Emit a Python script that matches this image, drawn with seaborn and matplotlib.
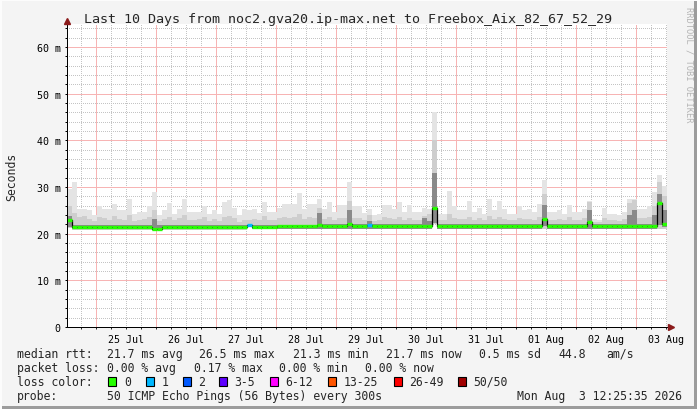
import numpy as np
import pandas as pd
import matplotlib
matplotlib.use("Agg")
import matplotlib.pyplot as plt
import matplotlib.dates as mdates
from matplotlib.patches import Rectangle
import seaborn as sns

# 10 days of smokeping data, 2 h consolidation bins (values in ms)
start = pd.Timestamp("2026-07-24 12:25:35")
end = pd.Timestamp("2026-08-03 12:25:35")
n_bins = 120

rtt_max = [
    29.6, 31.1, 25.3, 25.3, 25.0, 23.9, 26.0, 25.3, 25.3, 26.3,
    25.0, 25.0, 27.4, 24.2, 24.6, 24.6, 26.0, 28.9, 23.9, 25.0,
    26.5, 24.2, 25.3, 27.5, 24.6, 24.6, 24.6, 26.0, 24.2, 25.0,
    24.2, 26.7, 27.2, 25.6, 23.9, 25.3, 25.0, 25.3, 24.5, 26.7,
    24.6, 24.6, 25.6, 26.3, 26.3, 26.3, 28.7, 25.3, 26.3, 26.3,
    27.4, 25.3, 26.7, 24.6, 26.1, 26.1, 31.0, 26.0, 26.0, 24.5,
    25.3, 23.9, 24.2, 26.1, 26.1, 25.3, 26.7, 24.6, 26.1, 24.6,
    24.6, 25.6, 25.3, 46.0, 24.2, 24.2, 29.2, 26.0, 25.0, 25.0,
    27.0, 24.6, 25.6, 24.2, 27.4, 25.0, 27.0, 25.3, 24.2, 24.2,
    26.0, 25.0, 25.3, 24.7, 26.4, 31.6, 24.6, 24.6, 25.0, 24.2,
    26.1, 24.6, 24.6, 25.3, 27.1, 23.2, 23.0, 25.6, 24.2, 24.2,
    23.9, 24.6, 27.4, 27.4, 25.3, 25.3, 26.0, 28.9, 32.6, 30.3,
]
rtt_q90 = [
    26.0, 24.5, 23.5, 23.8, 23.2, 22.8, 23.6, 23.4, 23.0, 23.8,
    23.2, 23.0, 23.9, 22.8, 23.0, 23.2, 23.5, 25.0, 22.8, 23.2,
    23.6, 22.9, 23.3, 24.0, 23.0, 22.9, 23.1, 23.5, 22.8, 23.2,
    22.8, 23.6, 23.8, 23.3, 22.6, 23.0, 23.0, 23.2, 22.9, 23.7,
    23.0, 23.0, 23.3, 23.6, 23.4, 23.5, 24.2, 23.1, 23.5, 23.3,
    25.5, 23.2, 23.6, 23.0, 23.4, 23.3, 27.0, 23.4, 23.3, 22.9,
    24.0, 22.7, 22.9, 23.5, 23.4, 23.2, 23.6, 23.0, 23.4, 23.0,
    23.0, 23.8, 24.2, 40.0, 22.9, 23.0, 24.2, 23.4, 23.2, 23.1,
    23.6, 23.0, 23.3, 22.9, 23.8, 23.1, 23.6, 23.2, 22.9, 22.9,
    23.4, 23.1, 23.2, 23.0, 23.6, 28.5, 23.0, 23.0, 23.2, 22.9,
    23.5, 23.0, 23.0, 23.3, 26.8, 22.6, 22.6, 23.4, 23.0, 23.0,
    22.8, 23.1, 26.5, 27.2, 23.4, 23.4, 23.6, 26.0, 31.0, 28.0,
]
rtt_q75 = ([23.8] + [21.9] * 16 + [23.2] + [21.9] * 32 + [24.5] + [22.0] * 5
           + [25.0] + [22.0] * 3 + [22.8] + [22.0] * 10 + [23.4] + [22.8]
           + [33.0] + [22.0] * 21 + [26.2] + [22.0] * 8 + [25.0] + [22.0] * 7
           + [24.0, 25.0] + [22.0] * 3 + [24.0, 28.5, 25.0])
rtt_median = ([23.0] + [21.4] * 16 + [21.0] * 2 + [21.4] * 17 + [21.8]
              + [21.4] * 5 + [21.6] * 8 + [21.8] + [21.6] * 5 + [22.0]
              + [21.6] * 3 + [21.8] + [21.6] * 12 + [25.6] + [21.6] * 21
              + [23.1] + [21.6] * 8 + [22.4] + [21.6] * 13 + [26.5, 22.1])
rtt_q25 = ([21.5] + [20.95] * 16 + [20.7] * 2 + [20.95] * 17 + [21.65]
           + [21.1] * 36 + [22.3] + [21.1] * 21 + [21.6] + [21.1] * 22
           + [21.9, 21.4])
rtt_min = ([21.3] + [20.85] * 16 + [20.6] * 2 + [20.85] * 17 + [21.6]
           + [20.9] * 36 + [22.0] + [20.9] * 46)
loss = [0] * 36 + [1] + [0] * 23 + [1] + [0] * 59

loss_labels = ["0", "1", "2", "3-5", "6-12", "13-25", "26-49", "50/50"]
loss_colors = ["#26ff00", "#00b8ff", "#0059ff", "#5e00ff", "#ff00ff",
               "#ff5500", "#ff0000", "#a10000"]
loss_bounds = [0, 1, 2, 3, 6, 13, 26, 50]

title = "Last 10 Days from noc2.gva20.ip-max.net to Freebox_Aix_82_67_52_29"
rows = [
    [(16.7, "median rtt:"), (107.3, "21.7 ms avg"), (199, "26.5 ms max"),
     (293.3, "21.3 ms min"), (386, "21.7 ms now"), (479.3, "0.5 ms sd"),
     (558.3, "44.8"), (606.7, "am/s")],
    [(16.7, "packet loss:"), (107.3, "0.00 % avg"), (194, "0.17 % max"),
     (279.3, "0.00 % min"), (365, "0.00 % now")],
]
probe_text = "50 ICMP Echo Pings (56 Bytes) every 300s"
stamp = "Mon Aug  3 12:25:35 2026"

sns.set_theme(style="white")
plt.rcParams["font.family"] = ["DejaVu Sans Mono"]

W, H = 697, 410
fig = plt.figure(figsize=(W / 100, H / 100), dpi=100, facecolor="#f4f4f4")
ax = fig.add_axes([67 / W, 1 - 328 / H, 600 / W, (328 - 24.7) / H])
ax.set_facecolor("white")

edges = pd.date_range(start, end, periods=n_bins + 1).to_numpy()
t0, t1 = edges[:-1], edges[1:]


def step(a):
    return np.append(a, a[-1])


# smoke: outer pings light, inner pings darker
ax.fill_between(edges, step(rtt_min), step(rtt_max), step="post",
                color="#e4e4e4", lw=0, zorder=2)
ax.fill_between(edges, step(rtt_min), step(rtt_q90), step="post",
                color="#cecece", lw=0, zorder=2)
ax.fill_between(edges, step(rtt_q25), step(rtt_q75), step="post",
                color="#8a8a8a", lw=0, zorder=2)

# median: black risers, loss-coloured steps
sns.lineplot(x=edges, y=step(rtt_median), drawstyle="steps-post",
             color="black", lw=0.9, ax=ax, zorder=3)
idx = np.searchsorted(loss_bounds, loss, side="right") - 1
ax.hlines(rtt_median, t0, t1, colors=[loss_colors[i] for i in idx],
          lw=2.4, zorder=4)

ax.set_xlim(start, end)
ax.set_ylim(0, 65)
ax.set_xlabel("")
ax.set_ylabel("")

ax.yaxis.set_major_locator(plt.MultipleLocator(10))
ax.yaxis.set_minor_locator(plt.MultipleLocator(2))
ax.yaxis.set_major_formatter(plt.FuncFormatter(
    lambda v, p: "0" if v == 0 else f"{v:.0f} m"))
ax.xaxis.set_major_locator(mdates.HourLocator(byhour=12))
ax.xaxis.set_major_formatter(mdates.DateFormatter("%d %b"))
ax.xaxis.set_minor_locator(mdates.HourLocator(byhour=[0, 6, 12, 18]))
ax.xaxis.remove_overlapping_locs = False

fine_dots = (0, (1, 2))
red_dots = (0, (1, 1))
red = "#f7b4b4"
ax.yaxis.grid(True, which="minor", color="#c4c4c4", ls=fine_dots, lw=0.72,
              antialiased=False)
ax.yaxis.grid(True, which="major", color=red, ls=red_dots, lw=0.72,
              antialiased=False, zorder=1)
ax.xaxis.grid(True, which="minor", color="#c4c4c4", ls=fine_dots, lw=0.72,
              antialiased=False)
ax.xaxis.grid(False, which="major")
midnights = pd.date_range("2026-07-25", "2026-08-03", freq="D").to_numpy()
ax.vlines(midnights, 0, 65, colors=red, linestyles=red_dots, lw=0.72,
          antialiased=False, zorder=1)
ax.set_axisbelow(True)

for s in ["top", "right"]:
    ax.spines[s].set_visible(False)
for s in ["left", "bottom"]:
    ax.spines[s].set_color("black")
    ax.spines[s].set_linewidth(0.72)
    ax.spines[s].set_zorder(5)

ax.tick_params(axis="y", which="both", length=1.5, width=0.72, pad=3,
               labelsize=7.2, colors="black", left=True)
ax.tick_params(axis="x", which="minor", length=1.5, width=0.72, bottom=True)
ax.tick_params(axis="x", which="major", length=0, pad=5, labelsize=7.2,
               colors="black")

ax.plot([0], [1.01], marker="^", ms=4, color="#8b1a1a", transform=ax.transAxes,
        clip_on=False, zorder=6)
ax.plot([1.006], [0], marker=">", ms=4, color="#8b1a1a", transform=ax.transAxes,
        clip_on=False, zorder=6)

# texts
fig.text(0.5, 1 - 19 / H, title, ha="center", va="center", fontsize=9.6)
fig.text(12 / W, 1 - 177 / H, "Seconds", rotation=90, ha="center",
         va="center", fontsize=8.3)
fig.text(689 / W, 1 - 7 / H, "RRDTOOL / TOBI OETIKER", rotation=270,
         ha="center", va="top", fontsize=6.3, color="#b4b4b4")

legend_y = [354.3, 368.3, 382.2, 396.5]
for row, y in zip(rows, legend_y[:2]):
    for x, txt in row:
        fig.text(x / W, 1 - y / H, txt, ha="left", va="center", fontsize=8.3)

fig.text(16.7 / W, 1 - legend_y[2] / H, "loss color:", ha="left", va="center",
         fontsize=8.3)
sq_x = [108.3, 145.7, 182.7, 219, 270, 328, 393.8, 457.8]
for x, lab, col in zip(sq_x, loss_labels, loss_colors):
    fig.patches.append(Rectangle((x / W, 1 - (legend_y[2] + 4.5) / H), 8 / W,
                                 9 / H, transform=fig.transFigure,
                                 facecolor=col, edgecolor="black", lw=0.8))
    fig.text((x + 15.5) / W, 1 - legend_y[2] / H, lab, ha="left",
             va="center", fontsize=8.3)

fig.text(16.7 / W, 1 - legend_y[3] / H, "probe:", ha="left", va="center",
         fontsize=8.3)
fig.text(107.3 / W, 1 - legend_y[3] / H, probe_text, ha="left", va="center",
         fontsize=8.3)
fig.text(682 / W, 1 - legend_y[3] / H, stamp, ha="right", va="center",
         fontsize=8.3)

# 3d frame
fig.patches.append(Rectangle((694 / W, 0), 3 / W, 1, transform=fig.transFigure,
                             color="#9c9c9c", lw=0))
fig.patches.append(Rectangle((0, 0), 1, 3 / H, transform=fig.transFigure,
                             color="#9c9c9c", lw=0))
fig.patches.append(Rectangle((0, 0), 2 / W, 1, transform=fig.transFigure,
                             color="#fcfcfc", lw=0))
fig.patches.append(Rectangle((0, 1 - 2 / H), 1, 2 / H,
                             transform=fig.transFigure, color="#fcfcfc", lw=0))

fig.savefig("out.png", dpi=100, facecolor=fig.get_facecolor())
